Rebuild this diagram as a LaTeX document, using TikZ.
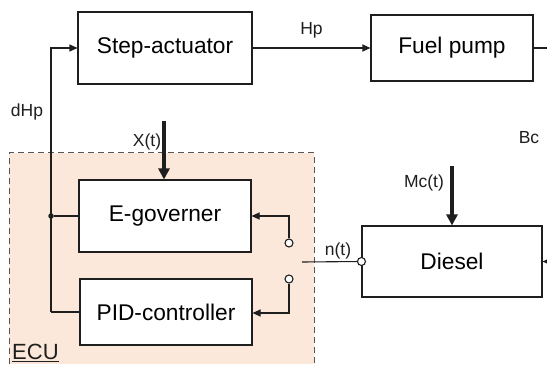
\documentclass[tikz,border=0pt]{standalone}
\usepackage{fontspec}
\setmainfont{Liberation Sans}
\usetikzlibrary{arrows.meta}
\definecolor{ecufill}{RGB}{252,232,219}
\definecolor{ink}{RGB}{30,30,30}
\begin{document}
\begin{tikzpicture}[x=1pt,y=-1pt,
  block/.style={draw=ink,line width=1.1pt,fill=white,font=\fontsize{22.7}{24}\selectfont,inner sep=0pt},
  sig/.style={draw=ink,line width=1.1pt},
  tip/.style={-{Triangle[length=8pt,width=7pt]}},
  heavy/.style={draw=ink,line width=3.6pt,-{Triangle[length=11pt,width=11pt]}},
  lbl/.style={font=\fontsize{17.5}{19}\selectfont,text=ink,inner sep=0pt},
  port/.style={circle,draw=ink,line width=1.1pt,fill=white,minimum size=8pt,inner sep=0pt},
  joint/.style={circle,fill=ink,minimum size=5.5pt,inner sep=0pt}]
\useasboundingbox (0,0) rectangle (547,369);

% ECU region
\fill[ecufill] (9,153) rectangle (314,364);
\draw[ink!75,line width=1pt,dash pattern=on 6pt off 4pt] (9,364) -- (9,153) -- (314,153) -- (314,364);
\node[font=\fontsize{22}{24}\selectfont,text=ink,anchor=south west,inner sep=0pt] (ecu) at (12,362) {\underline{ECU}};

% blocks
\node[block,minimum width=174pt,minimum height=72pt] (act) at (165,48) {Step-actuator};
\node[block,minimum width=162pt,minimum height=66pt] (pump) at (452,48) {Fuel pump};
\node[block,minimum width=172pt,minimum height=72pt] (gov) at (165,216) {E-governer};
\node[block,minimum width=172pt,minimum height=66pt] (pid) at (166,312) {PID-controller};
\node[block,minimum width=180pt,minimum height=71pt] (dsl) at (452,261.5) {Diesel};

% forward path
\draw[sig,tip] (act.east) -- node[lbl,above=9pt] (hp) {Hp} (pump.west);
\coordinate (pumpout) at (547,48);
\draw[sig] (pump.east) -- (pumpout);
\coordinate (dslin) at (547,261.5);
\draw[sig,tip] (dslin) -- (dsl.east);

% feedback to the actuator
\node[joint] (j) at (51,216) {};
\coordinate (fbtop) at (51,48);
\coordinate (fbbot) at (51,312);
\draw[sig,tip] (fbbot) -- (fbtop) -- (act.west);
\draw[sig] (gov.west) -- (j);
\draw[sig] (pid.west) -- (fbbot);
\node[lbl] (dhp) at (27,112) {dHp};

% setpoint and load inputs
\coordinate (xin) at (164,121);
\draw[heavy] (xin) -- (gov.north -| xin);
\node[lbl] (xl) at (147,142) {X(t)};
\coordinate (mcin) at (452,166);
\draw[heavy] (mcin) -- (dsl.north);
\node[lbl] (mcl) at (424,183) {Mc(t)};
\node[lbl] (bc) at (529,138) {Bc};

% speed signal and changeover switch
\node[port] (sa) at (289,243) {};
\node[port] (sb) at (289,279) {};
\node[port] (n) at (dsl.west) {};
\coordinate (swpt) at (302,262);
\draw[sig] (swpt) -- (n);
\node[lbl] (nl) at (338,251) {n(t)};
\draw[sig,tip] (sa) -- (289,216) -- (gov.east);
\draw[sig,tip] (sb) -- (289,313) -- (pid.east |- 0,313);
\end{tikzpicture}
\end{document}
